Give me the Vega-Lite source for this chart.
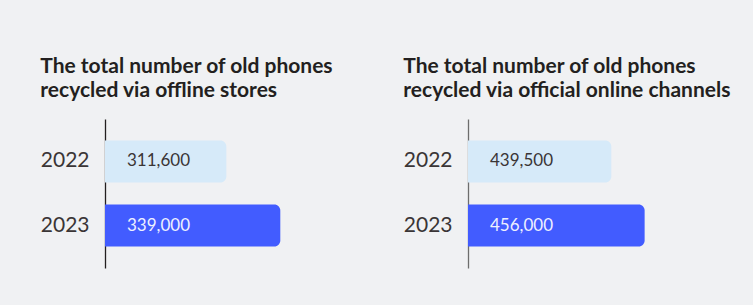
{
  "$schema": "https://vega.github.io/schema/vega-lite/v6.json",
  "background": "#f0f1f3",
  "padding": {"left": 40, "top": 56, "right": 22, "bottom": 37},
  "data": {"values": [
    {"channel": "offline", "year": "2022", "value": 311600},
    {"channel": "offline", "year": "2023", "value": 339000},
    {"channel": "online", "year": "2022", "value": 439500},
    {"channel": "online", "year": "2023", "value": 456000}
  ]},
  "spacing": 38,
  "hconcat": [
    {
      "title": {"text": ["The total number of old phones", "recycled via offline stores"]},
      "width": 260, "height": 149,
      "transform": [{"filter": "datum.channel === 'offline'"}],
      "encoding": {
        "y": {"field": "year", "type": "nominal", "scale": {"paddingInner": 0.344, "paddingOuter": 0.336},
              "axis": {"domainColor": "#231f20"}}
      },
      "layer": [
        {"mark": {"type": "bar", "cornerRadiusTopRight": 6, "cornerRadiusBottomRight": 6},
         "encoding": {
           "x": {"field": "value", "type": "quantitative", "scale": {"domain": [250000, 382000], "nice": false, "zero": false}, "axis": null},
           "x2": {"datum": 250000},
           "color": {"condition": {"test": "datum.year === '2023'", "value": "#425cff"}, "value": "#d6eaf9"}
         }},
        {"mark": {"type": "text", "align": "left", "dx": 22, "fontSize": 17, "font": "Lato"},
         "encoding": {
           "x": {"datum": 250000, "type": "quantitative"},
           "text": {"field": "value", "type": "quantitative", "format": ","},
           "color": {"condition": {"test": "datum.year === '2023'", "value": "#eef0ff"}, "value": "#3a3536"}
         }}
      ]
    },
    {
      "title": {"text": ["The total number of old phones", "recycled via official online channels"]},
      "width": 260, "height": 149,
      "transform": [{"filter": "datum.channel === 'online'"}],
      "encoding": {
        "y": {"field": "year", "type": "nominal", "scale": {"paddingInner": 0.344, "paddingOuter": 0.336},
              "axis": {"domainColor": "#6d6d6d"}}
      },
      "layer": [
        {"mark": {"type": "bar", "cornerRadiusTopRight": 6, "cornerRadiusBottomRight": 6},
         "encoding": {
           "x": {"field": "value", "type": "quantitative", "scale": {"domain": [368500, 497300], "nice": false, "zero": false}, "axis": null},
           "x2": {"datum": 368500},
           "color": {"condition": {"test": "datum.year === '2023'", "value": "#425cff"}, "value": "#d6eaf9"}
         }},
        {"mark": {"type": "text", "align": "left", "dx": 22, "fontSize": 17, "font": "Lato"},
         "encoding": {
           "x": {"datum": 368500, "type": "quantitative"},
           "text": {"field": "value", "type": "quantitative", "format": ","},
           "color": {"condition": {"test": "datum.year === '2023'", "value": "#eef0ff"}, "value": "#3a3536"}
         }}
      ]
    }
  ],
  "config": {
    "view": {"stroke": null},
    "title": {"anchor": "start", "frame": "bounds", "fontSize": 21, "font": "Lato", "fontWeight": "bold", "color": "#231f20", "lineHeight": 24, "offset": 18},
    "axisY": {"title": null, "domain": true, "domainWidth": 1.3, "ticks": false, "grid": false,
              "labelFontSize": 21, "labelFont": "Lato", "labelFontWeight": 400, "labelColor": "#3a3536", "labelPadding": 16}
  }
}
